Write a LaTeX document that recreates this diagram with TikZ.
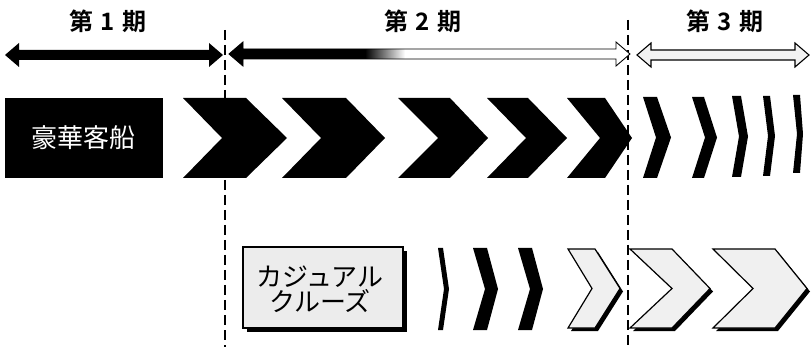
\documentclass[tikz,border=0pt]{standalone}
\usepackage{fontspec}
\newfontfamily\jp{Noto Sans CJK JP}
\newfontfamily\jpb{Noto Sans CJK JP Bold}
\newcommand\mychev[7][]{\path[#1] (#2,#6) -- (#3,#6) -- (#4,{(#6+#7)/2}) -- (#3,#7) -- (#2,#7) -- (#5,{(#6+#7)/2}) -- cycle;}
\newcommand\dblarrow[4][]{\path[#1] (#2,#4) -- ({#2+14},{#4-12}) -- ({#2+14},{#4-5}) -- ({#3-14},{#4-5}) -- ({#3-14},{#4-12}) -- (#3,#4) -- ({#3-14},{#4+12}) -- ({#3-14},{#4+5}) -- ({#2+14},{#4+5}) -- ({#2+14},{#4+12}) -- cycle;}
\tikzset{
  hdr/.style={font=\jpb\fontsize{24}{26}\selectfont, inner sep=0pt},
  phase/.style={black, line width=2.2pt, dash pattern=on 10pt off 5pt},
  solid chev/.style={fill=black},
  pale chev/.style={fill=gray!12, draw=black, line width=1.2pt, line join=miter},
  shadow chev/.style={fill=black},
}
\begin{document}
\begin{tikzpicture}[x=1pt,y=-1pt]
\useasboundingbox (0,0) rectangle (811,347);
\fill[white] (0,0) rectangle (811,347);
% phase separators
\draw[phase] (225,30) -- (225,347);
\draw[phase] (628,20) -- (628,347);
% headers
\node[hdr] (p1) at (108,21) {第\hspace{7pt}1\hspace{7pt}期};
\node[hdr] (p2) at (423,21) {第\hspace{7pt}2\hspace{7pt}期};
\node[hdr] (p3) at (725,21) {第\hspace{7pt}3\hspace{7pt}期};
% period arrows
\dblarrow[fill=black]{5}{223}{55}
\begin{scope}
  \dblarrow[clip]{229}{630}{54}
  \fill[white] (228,30) rectangle (632,80);
  \fill[black] (228,30) rectangle (365,80);
  \shade[left color=black, right color=white] (365,30) rectangle (405,80);
\end{scope}
\dblarrow[draw=black, line width=0.9pt]{229}{630}{54}
\dblarrow[fill=gray!10, draw=black, line width=1.1pt]{637}{809}{55}
% top row: luxury liner
\fill[black] (5,98) rectangle (163,178);
\node[font=\jp\fontsize{26}{28}\selectfont, text=white, inner sep=0pt] (lux) at (83,138) {豪華客船};
\mychev[solid chev]{183}{246}{287}{222}{98}{178}
\mychev[solid chev]{282}{346}{385}{321}{98}{178}
\mychev[solid chev]{398}{450}{488}{438}{98}{178}
\mychev[solid chev]{487}{528}{567}{526}{98}{178}
\mychev[solid chev]{567}{605}{632}{600}{98}{178}
\mychev[solid chev]{643}{657}{671}{656}{97}{178}
\mychev[solid chev]{692}{704}{717}{705}{97}{178}
\mychev[solid chev]{732}{741}{748}{739}{96}{177}
\mychev[solid chev]{763}{770}{775}{768}{96}{176}
\mychev[solid chev]{793}{800}{803}{797}{95}{173}
% bottom row: casual cruise
\fill[black] (247,251) rectangle (407,332);
\draw[fill=gray!15, draw=black, line width=1.2pt] (243,247) rectangle (403,328);
\node[font=\jp\fontsize{26}{25}\selectfont, align=center, inner sep=0pt] (cas) at (320,289) {カジュアル\\クルーズ};
\mychev[solid chev]{438}{443}{449}{444}{248}{330}
\mychev[solid chev]{473}{487}{498}{485}{248}{330}
\mychev[solid chev]{518}{532}{543}{530}{248}{330}
\mychev[shadow chev]{571}{598}{623}{595}{252}{331}
\mychev[pale chev]{568}{595}{620}{592}{249}{328}
\mychev[shadow chev]{633}{675}{713}{675}{252}{331}
\mychev[pale chev]{630}{672}{710}{672}{249}{328}
\mychev[shadow chev]{716}{778}{810}{756}{252}{331}
\mychev[pale chev]{713}{775}{807}{753}{249}{328}
\end{tikzpicture}
\end{document}
